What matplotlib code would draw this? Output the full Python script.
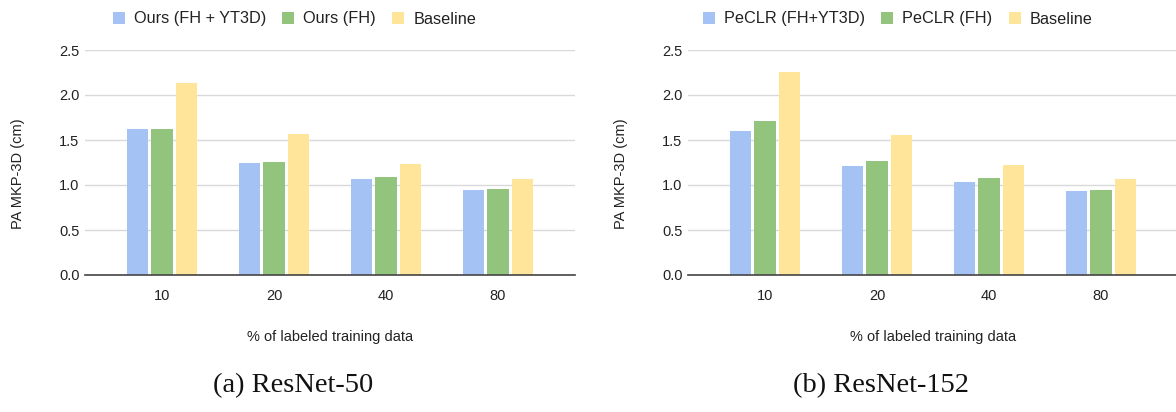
import numpy as np
import matplotlib
matplotlib.use('Agg')
import matplotlib.pyplot as plt

categories = ['10', '20', '40', '80']

ours_fh_yt3d = [1.62, 1.24, 1.07, 0.95]
ours_fh = [1.62, 1.26, 1.09, 0.96]
baseline_50 = [2.13, 1.57, 1.23, 1.07]

peclr_fh_yt3d = [1.60, 1.21, 1.03, 0.93]
peclr_fh = [1.71, 1.27, 1.08, 0.94]
baseline_152 = [2.26, 1.56, 1.22, 1.07]

labels_50 = ['Ours (FH + YT3D)', 'Ours (FH)', 'Baseline']
labels_152 = ['PeCLR (FH+YT3D)', 'PeCLR (FH)', 'Baseline']

colors = ['#a4c2f4', '#93c47d', '#ffe599']
text_color = '#222222'

plt.rcParams['font.family'] = ['Liberation Sans', 'DejaVu Sans']

W, H = 1176, 412
fig = plt.figure(figsize=(W / 100, H / 100), dpi=100)


def px(x0, y0, w, h):
    # pixel box (top-left origin) -> figure fraction
    return [x0 / W, 1 - (y0 + h) / H, w / W, h / H]


def draw_panel(ax_rect, series, labels, legend_x, caption, caption_x):
    ax = fig.add_axes(ax_rect)
    x = np.arange(len(categories))
    pitch = 0.217
    width = 0.19
    bars = []
    for i, (vals, col) in enumerate(zip(series, colors)):
        b = ax.bar(x + (i - 1) * pitch, vals, width=width, color=col, zorder=3)
        bars.append(b)

    ax.set_ylim(0, 2.5)
    ax.set_xlim(-0.6875, 3.6875)
    ax.set_yticks([0, 0.5, 1.0, 1.5, 2.0, 2.5])
    ax.set_yticklabels(['0.0', '0.5', '1.0', '1.5', '2.0', '2.5'])
    ax.set_xticks(x)
    ax.set_xticklabels(categories)
    ax.tick_params(axis='both', length=0, labelsize=10.5, labelcolor=text_color)
    ax.tick_params(axis='x', pad=10)
    ax.tick_params(axis='y', pad=4)
    ax.grid(axis='y', color='#d9d9d9', linewidth=1.0, zorder=0)
    for s in ['top', 'right', 'left']:
        ax.spines[s].set_visible(False)
    ax.spines['bottom'].set_color('#444444')
    ax.spines['bottom'].set_linewidth(1.2)
    ax.spines['bottom'].set_zorder(4)

    ax.set_ylabel('PA MKP-3D (cm)', fontsize=10.5, color=text_color)
    ax.yaxis.set_label_coords(-0.137, 0.45)
    ax.yaxis.label.set_verticalalignment('center')
    ax.set_xlabel('% of labeled training data', fontsize=10.5, color=text_color)
    ax.xaxis.set_label_coords(0.5, -0.276)
    ax.xaxis.label.set_verticalalignment('center')

    fig.legend(bars, labels, loc='center left',
               bbox_to_anchor=(legend_x / W, 1 - 19 / H), ncol=3, frameon=False,
               fontsize=11.7, handlelength=0.74, handleheight=0.74,
               handletextpad=0.55, columnspacing=1.0, borderpad=0,
               borderaxespad=0, labelcolor=text_color)

    fig.text(caption_x / W, 1 - 386 / H, caption, ha='center', va='center',
             fontsize=20.5, family='Liberation Serif', color='#111111')


draw_panel(px(85, 50, 490, 225), [ours_fh_yt3d, ours_fh, baseline_50],
           labels_50, 113, '(a) ResNet-50', 293)
draw_panel(px(688, 50, 490, 225), [peclr_fh_yt3d, peclr_fh, baseline_152],
           labels_152, 703, '(b) ResNet-152', 881)

fig.savefig('out.png', dpi=100)
